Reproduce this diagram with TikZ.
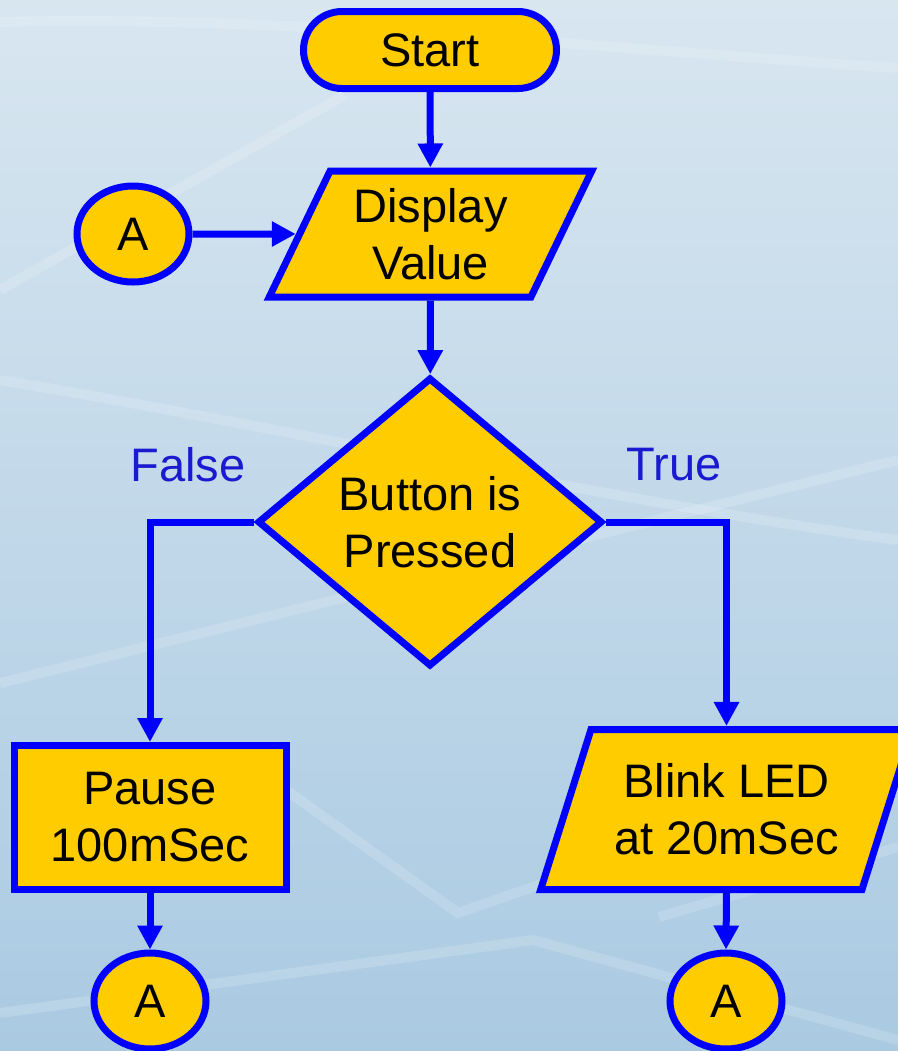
\documentclass[tikz,border=0pt]{standalone}
\usepackage{fontspec}
\setmainfont{Liberation Sans}
\usetikzlibrary{shapes.geometric,shapes.misc,arrows.meta}
\definecolor{fgold}{HTML}{FFCC00}
\definecolor{fblue}{HTML}{0000FF}
\definecolor{lblue}{HTML}{1A1AD0}
\definecolor{bgtop}{HTML}{D8E6F0}
\definecolor{bgmid}{HTML}{C6DBEB}
\definecolor{bgbot}{HTML}{AACAE2}
\tikzset{
  box/.style={draw=fblue, fill=fgold, line width=3.5pt, text=black, align=center,
    inner sep=0pt, font=\fontsize{23.5}{28.5}\selectfont},
  term/.style={box, rounded rectangle, minimum width=126.5pt, minimum height=38.5pt},
  io/.style={box, trapezium, trapezium stretches=true},
  proc/.style={box, rectangle, minimum width=136pt, minimum height=72pt},
  decide/.style={box, diamond, aspect=1.2, minimum width=172.5pt, minimum height=144.5pt},
  conn/.style={box, ellipse, minimum width=56pt, minimum height=48pt},
  flow/.style={draw=fblue, line width=3.5pt, -{Triangle[length=12pt,width=12pt]}},
  lbl/.style={text=lblue, inner sep=0pt, font=\fontsize{23.5}{28.5}\selectfont},
  streak/.style={draw=white, line width=5pt, opacity=0.16}
}
\begin{document}
\begin{tikzpicture}[x=0.5pt, y=-0.5pt]
\useasboundingbox (0,0) rectangle (898,1051);
\clip (0,0) rectangle (898,1051);
% background
\shade[top color=bgtop, middle color=bgmid, bottom color=bgbot] (0,0) rectangle (898,1051);
\draw[streak] (0,22) .. controls (300,15) and (620,50) .. (898,68);
\draw[streak] (0,290) -- (345,95);
\draw[streak] (0,380) .. controls (300,430) and (600,500) .. (898,540);
\draw[streak] (0,683) -- (898,460);
\draw[streak] (286,790) -- (458,913) -- (898,760);
\draw[streak] (0,1013) -- (533,940) -- (898,1040);
\draw[streak] (659,917) -- (898,847);
% nodes
\node[term] (start) at (430,50) {Start};
\node[io, trapezium left angle=63, trapezium right angle=117,
      minimum width=161.5pt, minimum height=63pt] (disp) at (430.5,234) {Display\\Value};
\node[conn] (atop) at (133,234) {A};
\node[decide] (dec) at (430,522) {Button is\\Pressed};
\node[lbl] (false) at (188,465) {False};
\node[lbl] (true) at (674,465) {True};
\node[proc] (pause) at (150,817.5) {Pause\\100mSec};
\node[io, trapezium left angle=65.5, trapezium right angle=114.5,
      minimum width=186pt, minimum height=80pt] (blink) at (726.5,809.5) {Blink LED\\at 20mSec};
\node[conn] (aleft) at (150,1001) {A};
\node[conn] (aright) at (726,1001) {A};
% connectors
\draw[flow] (start) -- (disp);
\draw[flow] (atop.east) -- (disp.west);
\draw[flow] (disp) -- (dec);
\draw[flow] (dec.west) -| (pause.north);
\draw[flow] (dec.east) -| (blink.north);
\draw[flow] (pause) -- (aleft);
\draw[flow] (blink.south) -- (aright.north);
\end{tikzpicture}
\end{document}
